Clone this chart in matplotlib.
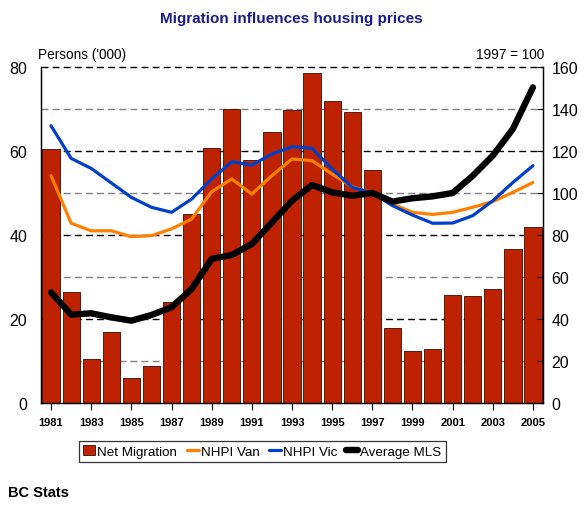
"""Net migration against housing price indexes, BC 1981-2005."""

import matplotlib

matplotlib.use("Agg")

import matplotlib.pyplot as plt
import numpy as np

years = list(range(1981, 2006))
net_migration = [60.5, 26.4, 10.5, 16.9, 6.0, 8.8, 24.0, 45.0, 60.7, 70.0,
                 57.9, 64.5, 69.8, 78.6, 71.9, 69.3, 55.5, 17.9, 12.4, 12.9,
                 25.7, 25.5, 27.1, 36.7, 41.9]
nhpi_van = [108.3, 85.6, 82.0, 82.0, 79.2, 79.7, 82.9, 87.6, 100.6, 106.7,
            99.5, 108.3, 116.2, 115.4, 109.0, 103.0, 100.0, 94.8, 90.8, 89.8,
            90.8, 93.2, 95.9, 100.3, 105.0]
nhpi_vic = [132.0, 116.5, 111.7, 104.8, 97.9, 93.2, 90.8, 97.1, 106.7, 114.9,
            113.3, 118.6, 122.0, 121.3, 111.4, 102.7, 100.0, 94.0, 89.5, 85.6,
            85.7, 89.2, 96.3, 105.0, 113.0]
average_mls = [52.7, 42.1, 42.7, 40.8, 39.2, 41.9, 45.6, 54.3, 68.6, 70.5,
               75.7, 86.0, 96.3, 103.8, 100.3, 98.7, 100.0, 95.9, 97.5, 98.4,
               100.0, 108.2, 117.8, 130.5, 150.3]

plt.rcParams["font.family"] = ["Liberation Sans", "DejaVu Sans"]

fig = plt.figure(figsize=(5.86, 5.06), dpi=100)
ax = fig.add_axes([0.070, 0.2016, 0.8566, 0.664])
ax2 = ax.twinx()

x = np.array(years)
ax.set_zorder(1)
ax2.set_zorder(2)
ax2.patch.set_visible(False)

# gridlines: dark at 20/40/60, grey at the rest; top edge is a dashed line too
for level in range(10, 81, 10):
    dark = level in (20, 40, 60, 80)
    ax.axhline(level, color="black" if dark else "#808080",
               linestyle=(0, (5, 3)), linewidth=1.0, zorder=0, clip_on=False)
ax.spines["top"].set_visible(False)
ax2.spines["top"].set_visible(False)

bars = ax.bar(x, net_migration, width=0.86, color="#BE2200",
              edgecolor="#3a0a00", linewidth=0.6, zorder=2,
              label="Net Migration")

l_van, = ax2.plot(x, nhpi_van, color="#FF8000", linewidth=2.3,
                  solid_capstyle="round", label="NHPI Van")
l_vic, = ax2.plot(x, nhpi_vic, color="#0040C8", linewidth=2.3,
                  solid_capstyle="round", label="NHPI Vic")
l_mls, = ax2.plot(x, average_mls, color="black", linewidth=4.6,
                  solid_capstyle="round", label="Average MLS")

ax.set_xlim(1980.5, 2005.5)
ax.set_ylim(0, 80)
ax2.set_ylim(0, 160)
ax.set_yticks(range(0, 81, 20))
ax2.set_yticks(range(0, 161, 20))
ax.set_xticks(years[::2])
ax.set_xticks(years[1::2], minor=True)

ax.tick_params(axis="y", direction="in", length=0, labelsize=11.5, pad=10)
ax2.tick_params(axis="y", direction="in", length=4, labelsize=11.5, pad=6)
ax.tick_params(axis="x", which="major", direction="out", length=5,
               labelsize=8, pad=5)
ax.tick_params(axis="x", which="minor", direction="in", length=3)
for lab in ax.get_xticklabels():
    lab.set_fontweight("bold")
for spine in list(ax.spines.values()) + list(ax2.spines.values()):
    spine.set_linewidth(0.9)

fig.text(0.497, 0.962, "Migration influences housing prices", ha="center",
         va="center", fontsize=11, fontweight="bold", color="#1a1a8c")
fig.text(0.064, 0.892, "Persons ('000)", ha="left", va="center", fontsize=9.8)
fig.text(0.928, 0.892, "1997 = 100", ha="right", va="center", fontsize=9.8)
fig.text(0.014, 0.012, "BC Stats", ha="left", va="bottom", fontsize=10.5,
         fontweight="bold")

leg = fig.legend([bars, l_van, l_vic, l_mls],
                 ["Net Migration", "NHPI Van", "NHPI Vic", "Average MLS"],
                 loc="center", bbox_to_anchor=(0.448, 0.106), ncol=4,
                 frameon=True, fancybox=False, fontsize=9.6,
                 handlelength=0.9, handletextpad=0.15, columnspacing=0.7,
                 borderpad=0.3)
leg.get_frame().set_edgecolor("black")
leg.get_frame().set_linewidth(0.9)

fig.savefig("out.png", dpi=100)
